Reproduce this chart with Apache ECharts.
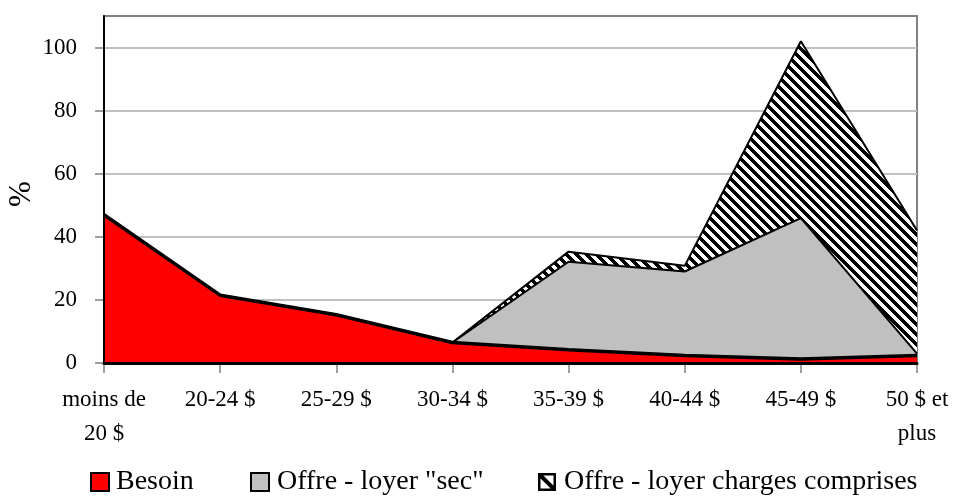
<!DOCTYPE html>
<html>
<head>
<meta charset="utf-8">
<script src="https://cdn.jsdelivr.net/npm/echarts@6/dist/echarts.min.js"></script>
<style>html,body{margin:0;padding:0;background:#fff;}#c{width:956px;height:496px;}</style>
</head>
<body>
<div id="c"></div>
<script>
const categories = ['moins de\n20 $', '20-24 $', '25-29 $', '30-34 $', '35-39 $', '40-44 $', '45-49 $', '50 $ et\nplus'];
const besoin = [47, 21.5, 15.3, 6.5, 4.2, 2.4, 1.3, 2.4];
const offreSec = [null, null, null, 6.5, 32.1, 29, 45.9, 3];
const offreCharges = [null, null, null, 6.5, 35.3, 30.8, 102, 42];
const yTicks = [0, 20, 40, 60, 80, 100];
const yAxisTitle = '%';

function makeHatch(s) {
  const c = document.createElement('canvas');
  c.width = s; c.height = s;
  const ctx = c.getContext('2d');
  const img = ctx.createImageData(s, s);
  for (let y = 0; y < s; y++) {
    for (let x = 0; x < s; x++) {
      const d = ((x - y) % s + s) % s;
      const v = d < s / 2 ? 0 : 255;
      const i = (y * s + x) * 4;
      img.data[i] = v; img.data[i + 1] = v; img.data[i + 2] = v; img.data[i + 3] = 255;
    }
  }
  ctx.putImageData(img, 0, 0);
  return c;
}
function makeHatchIcon() {
  const c = document.createElement('canvas');
  c.width = 36; c.height = 36;
  const ctx = c.getContext('2d');
  ctx.fillStyle = '#000'; ctx.fillRect(0, 0, 36, 36);
  ctx.fillStyle = '#fff'; ctx.fillRect(5, 5, 26, 26);
  ctx.strokeStyle = '#000'; ctx.lineWidth = 8;
  ctx.beginPath(); ctx.moveTo(2, 2); ctx.lineTo(34, 34); ctx.stroke();
  return c.toDataURL();
}
const hatch = makeHatch(10);
const FONT = 'Liberation Serif';

const chart = echarts.init(document.getElementById('c'));
chart.setOption({
  backgroundColor: '#fff',
  animation: false,
  grid: {
    left: 104, right: 39, top: 16, bottom: 133,
    show: true, borderColor: '#808080', borderWidth: 2,
    outerBoundsMode: 'none'
  },
  graphic: [
    {
      type: 'text', x: 22, y: 194, rotation: Math.PI / 2,
      style: { text: yAxisTitle, fontFamily: FONT, fontSize: 31, fill: '#000', align: 'center', verticalAlign: 'middle' }
    }
  ],
  legend: [
    {
      left: 85, top: 463, itemWidth: 18, itemHeight: 18, itemGap: 0,
      textStyle: { fontFamily: FONT, fontSize: 28, color: '#000', padding: [0, 0, 0, 2] },
      data: [{ name: 'Besoin', icon: 'rect', itemStyle: { color: '#ff0000', borderColor: '#000', borderWidth: 2 } }]
    },
    {
      left: 245, top: 463, itemWidth: 18, itemHeight: 18, itemGap: 0,
      textStyle: { fontFamily: FONT, fontSize: 28, color: '#000', padding: [0, 0, 0, 3] },
      data: [{ name: 'Offre - loyer "sec"', icon: 'rect', itemStyle: { color: '#c0c0c0', borderColor: '#000', borderWidth: 2 } }]
    },
    {
      left: 533, top: 463, itemWidth: 18, itemHeight: 18, itemGap: 0,
      textStyle: { fontFamily: FONT, fontSize: 28, color: '#000', padding: [0, 0, 0, 3] },
      data: [{ name: 'Offre - loyer charges comprises', icon: 'image://' + makeHatchIcon() }]
    }
  ],
  xAxis: [
    {
      type: 'category', data: categories, boundaryGap: false, z: 0,
      axisLine: { show: false },
      axisTick: { show: true, length: 10, lineStyle: { color: '#808080', width: 1.5 }, interval: 0 },
      axisLabel: { interval: 0, margin: 20, fontFamily: FONT, fontSize: 23, lineHeight: 34, color: '#000' },
      splitLine: { show: false }
    },
    {
      type: 'category', data: categories, boundaryGap: false, position: 'bottom', z: 10,
      axisLine: { show: true, lineStyle: { color: '#000', width: 3 } },
      axisTick: { show: false }, axisLabel: { show: false }, splitLine: { show: false }
    }
  ],
  yAxis: [
    {
      type: 'value', min: 0, max: 110, interval: 20, z: 0,
      axisLine: { show: false },
      axisTick: { show: true, length: 9, lineStyle: { color: '#808080', width: 1.5 }, customValues: yTicks },
      axisLabel: { margin: 27, fontFamily: FONT, fontSize: 23, color: '#000', customValues: yTicks },
      splitLine: { show: true, lineStyle: { color: '#c0c0c0', width: 2 } }
    },
    {
      type: 'value', min: 0, max: 110, interval: 20, position: 'left', offset: 0, z: 10,
      axisLine: { show: true, lineStyle: { color: '#000', width: 2 } },
      axisTick: { show: false }, axisLabel: { show: false }, splitLine: { show: false }
    }
  ],
  series: [
    {
      name: 'Besoin', type: 'line', data: besoin, z: 5,
      showSymbol: false, symbol: 'none',
      lineStyle: { color: '#000', width: 3.5 },
      itemStyle: { color: '#ff0000' },
      areaStyle: { color: '#ff0000', opacity: 1 }
    },
    {
      name: 'Offre - loyer "sec"', type: 'line', data: offreSec, z: 4,
      showSymbol: false, symbol: 'none',
      lineStyle: { color: '#000', width: 2 },
      itemStyle: { color: '#c0c0c0' },
      areaStyle: { color: '#c0c0c0', opacity: 1 }
    },
    {
      name: 'Offre - loyer charges comprises', type: 'line', data: offreCharges, z: 3,
      showSymbol: false, symbol: 'none',
      lineStyle: { color: '#000', width: 2 },
      itemStyle: { color: '#000' },
      areaStyle: { color: { image: hatch, repeat: 'repeat' }, opacity: 1 }
    }
  ]
});
</script>
</body>
</html>
